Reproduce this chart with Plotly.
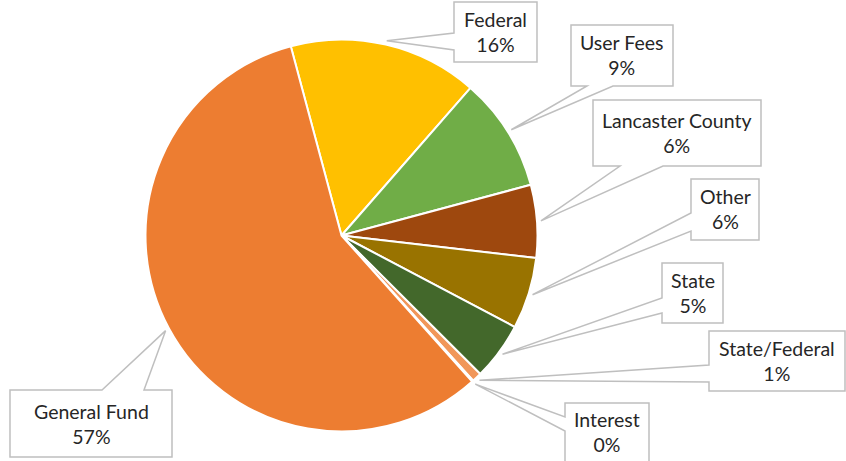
import math
import plotly.graph_objects as go

# ---- data ----
labels = ["Federal", "User Fees", "Lancaster County", "Other", "State",
          "State/Federal", "Interest", "General Fund"]
values = [15.6, 9.4, 6.0, 5.9, 4.75, 0.8, 0.1, 57.45]
colors = ["#FFC000", "#70AD47", "#9E480E", "#997300", "#43682B",
          "#F1975A", "#FFD966", "#ED7D31"]

# ---- layout constants (pixels) ----
W, H = 846, 461
CX, CY, R = 341.5, 235.5, 196.0
ROTATION = -15.0
TIP_GAP = 4.0

# callout boxes: x0, y0, x1, y1, wedge side, wedge base start, end
boxes = {
    "Federal":          (454, 2, 537, 62, "left", 33, 50),
    "User Fees":        (571, 25, 673, 86, "bottom", 587, 613),
    "Lancaster County": (593, 100, 761, 166, "bottom", 620, 663),
    "Other":            (691, 179, 759, 240, "left", 213, 231),
    "State":            (662, 263, 723, 323, "left", 298, 313),
    "State/Federal":    (709, 331, 845, 391, "left", 365, 382),
    "Interest":         (565, 403, 649, 475, "left", 417, 431),
    "General Fund":     (10, 390, 172, 457, "top", 102, 144),
}


def px(x):
    return x / W


def py(y):
    return 1 - y / H


fig = go.Figure()
fig.add_trace(go.Pie(
    labels=labels, values=values, sort=False, direction="clockwise",
    rotation=ROTATION, textinfo="none", showlegend=False,
    marker=dict(colors=colors, line=dict(color="white", width=2)),
    domain=dict(x=[px(CX - R), px(CX + R)], y=[py(CY + R), py(CY - R)]),
))

total = sum(values)
shapes, annotations = [], []
cum = 0.0
for lab, v in zip(labels, values):
    mid = ROTATION + 360 * (cum + v / 2) / total
    cum += v
    a = math.radians(mid)
    tx = CX + (R + TIP_GAP) * math.sin(a)
    ty = CY - (R + TIP_GAP) * math.cos(a)
    x0, y0, x1, y1, side, w0, w1 = boxes[lab]
    if side == "left":
        pts = [(x0, y0), (x1, y0), (x1, y1), (x0, y1), (x0, w1), (tx, ty), (x0, w0)]
    elif side == "bottom":
        pts = [(x0, y0), (x1, y0), (x1, y1), (w1, y1), (tx, ty), (w0, y1), (x0, y1)]
    else:  # top
        pts = [(x0, y0), (w0, y0), (tx, ty), (w1, y0), (x1, y0), (x1, y1), (x0, y1)]
    path = "M " + " L ".join(f"{px(x):.5f},{py(y):.5f}" for x, y in pts) + " Z"
    shapes.append(dict(type="path", path=path, xref="paper", yref="paper",
                       fillcolor="white", line=dict(color="#BFBFBF", width=1.5),
                       layer="above"))
    pct = round(100 * v / total)
    yc = (y0 + min(y1, H)) / 2
    annotations.append(dict(
        x=px((x0 + x1) / 2), y=py(yc),
        xref="paper", yref="paper", showarrow=False,
        text=f"{lab}<br>{pct}%", align="center",
        font=dict(family="Lato, Carlito, Calibri, sans-serif", size=19.5, color="#262626"),
        xanchor="center", yanchor="middle"))

fig.update_layout(
    width=W, height=H, autosize=False,
    margin=dict(l=0, r=0, t=0, b=0),
    paper_bgcolor="white", plot_bgcolor="white",
    shapes=shapes, annotations=annotations,
)

fig.write_html("out.html")
